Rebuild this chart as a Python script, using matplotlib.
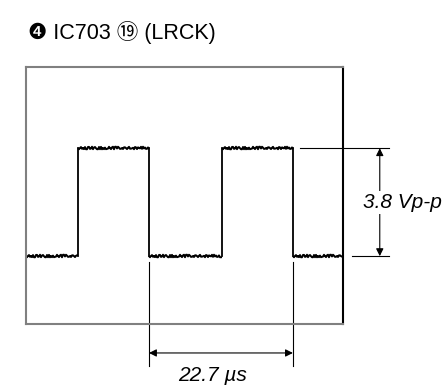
import matplotlib

matplotlib.use("Agg")
import matplotlib.pyplot as plt

# ── Scope trace data (time in µs, level in V) ────────────────────
edge_times = [8.2, 19.4, 30.9, 42.1]      # rise, fall, rise, fall
trace_span = [0.0, 50.0]
low_level = 0.0
high_level = 3.8
period_label = "22.7 µs"
vpp_label = "3.8 Vp-p"
title_text = "❹ IC703 ⑲ (LRCK)"

plt.rcParams["font.family"] = ["Liberation Sans", "DejaVu Sans", "Noto Sans CJK JP"]

fig = plt.figure(figsize=(4.43, 3.86), dpi=100)
ax = fig.add_axes([26 / 443, 62 / 386, 317 / 443, 257 / 386])
ax.set_xlim(trace_span)
ax.set_ylim(-2.39, 6.66)
ax.set_xticks([])
ax.set_yticks([])
for side in ("left", "top", "bottom"):
    ax.spines[side].set_color("#808080")
    ax.spines[side].set_linewidth(1.5)
ax.spines["right"].set_color("black")
ax.spines["right"].set_linewidth(1.5)

# flat parts of the square wave (noisy look via sketch)
bounds = [trace_span[0]] + edge_times + [trace_span[1]]
for i in range(len(bounds) - 1):
    lvl = low_level if i % 2 == 0 else high_level
    seg, = ax.plot([bounds[i], bounds[i + 1]], [lvl, lvl], color="black",
                   lw=1.4, solid_capstyle="butt", clip_on=False)
    seg.set_sketch_params(scale=1.3, length=1.5, randomness=3)
# vertical edges
for t in edge_times:
    ax.plot([t, t], [low_level, high_level], color="black", lw=1.3,
            clip_on=False)

# ── Period dimension ─────────────────────────────────────────────
t_a, t_b = edge_times[1], edge_times[3]
for t in (t_a, t_b):
    ax.plot([t, t], [-0.2, -3.87], color="black", lw=0.8, clip_on=False)
ax.annotate("", xy=(t_a, -3.41), xytext=(t_b, -3.41),
            arrowprops=dict(arrowstyle="<|-|>", color="black", lw=0.8,
                            mutation_scale=11, shrinkA=0, shrinkB=0),
            annotation_clip=False)
ax.text(29.4, -4.22, period_label, ha="center", va="center",
        fontsize=15, style="italic")

# ── Amplitude dimension ──────────────────────────────────────────
x_arrow = 55.8
ax.plot([43.2, 57.3], [high_level, high_level], color="black", lw=0.8,
        clip_on=False)
ax.plot([51.4, 57.3], [low_level, low_level], color="black", lw=0.8,
        clip_on=False)
ax.annotate("", xy=(x_arrow, high_level), xytext=(x_arrow, low_level),
            arrowprops=dict(arrowstyle="<|-|>", color="black", lw=0.8,
                            mutation_scale=11, shrinkA=0, shrinkB=0),
            annotation_clip=False)
ax.text(53.1, (high_level + low_level) / 2, vpp_label, ha="left",
        va="center", fontsize=15, style="italic",
        bbox=dict(facecolor="white", edgecolor="none", pad=1.5))

fig.text(28 / 443, 1 - 33 / 386, title_text, ha="left", va="center",
         fontsize=15.5)

fig.savefig("out.png", dpi=100)
